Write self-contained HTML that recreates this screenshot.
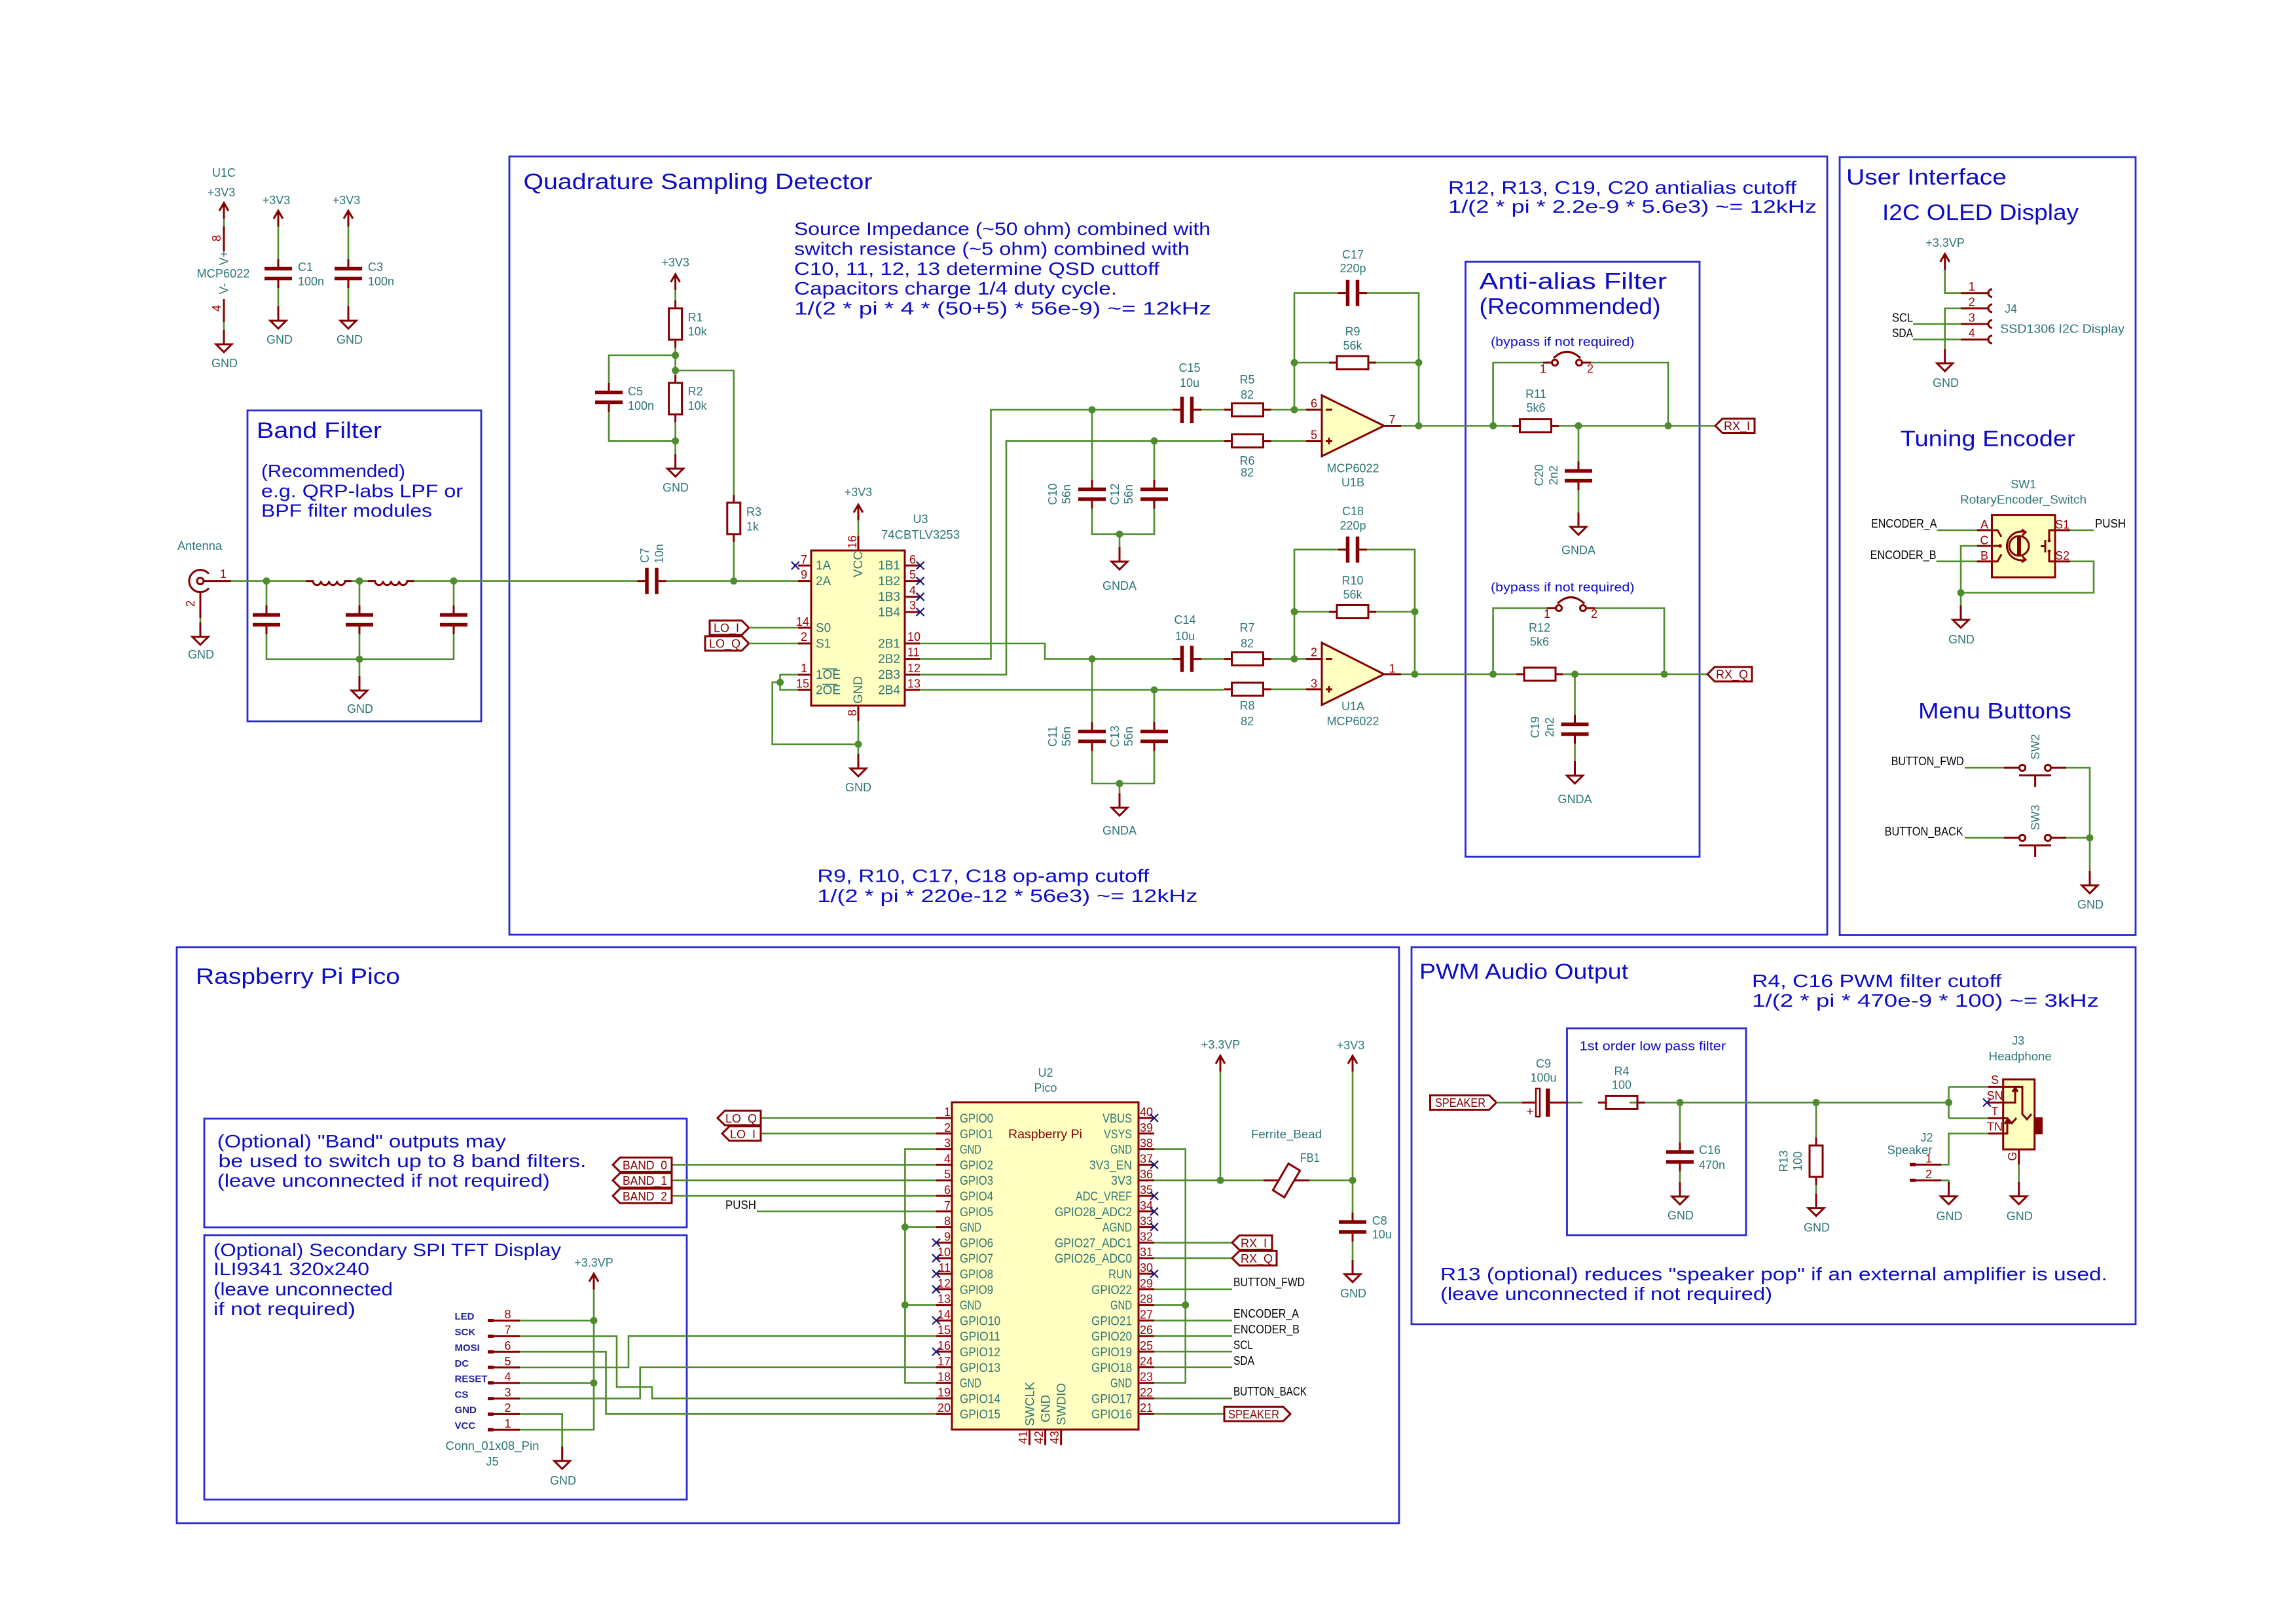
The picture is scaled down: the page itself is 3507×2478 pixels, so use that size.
<!DOCTYPE html>
<html><head><meta charset="utf-8"><title>Schematic</title><style>
html,body{margin:0;padding:0;background:#fff;}
svg{display:block}
text{font-family:"Liberation Sans","DejaVu Sans",sans-serif}
.w{stroke:#4e8c2c;stroke-width:2.6;fill:none}
.c{stroke:#840000;stroke-width:3;fill:none}
.cf{stroke:#840000;stroke-width:3;fill:#ffffc2}
.pl{stroke:#840000;stroke-width:5.5;fill:none}
.b{stroke:#2a2ad2;stroke-width:2.8;fill:none}
.x{stroke:#141484;stroke-width:2.2;fill:none}
.j{fill:#4e8c2c}
.t{fill:#2e7676;font-size:18px}
.p{fill:#a00000;font-size:18px}
.n{fill:#0c0cc4}
.k{fill:#000;font-size:18px}
.lb{fill:#840000;font-size:18px}
.pn{fill:#2e7676;font-size:19px}
.jl{fill:#22229a;font-size:15px;font-weight:bold}
</style></head><body>
<svg width="3507" height="2478" viewBox="0 0 3507 2478" xmlns="http://www.w3.org/2000/svg">
<defs>
<g id="gnd"><path class="c" d="M0 -22 V0 M-12 0 H12 L0 12 Z"/></g>
<g id="pwr"><path class="c" d="M0 0 V24 M-7 12 L0 0 L7 12"/></g>
<g id="nc"><path class="x" d="M-6 -6 L6 6 M-6 6 L6 -6"/></g>
<g id="cv"><path class="pl" d="M-21 -7.5 H21 M-21 7.5 H21"/><path class="c" d="M0 -22 V-10 M0 10 V22"/></g>
<g id="ch"><path class="pl" d="M-7.5 -20 V20 M7.5 -20 V20"/><path class="c" d="M-22 0 H-10 M10 0 H22"/></g>
<g id="rv"><rect class="c" x="-10" y="-24" width="20" height="48"/><path class="c" d="M0 -36 V-24 M0 24 V36"/></g>
<g id="rh"><rect class="c" x="-24" y="-10" width="48" height="20"/><path class="c" d="M-36 0 H-24 M24 0 H36"/></g>
</defs>
<rect x="0" y="0" width="3507" height="2478" fill="#fff"/>

<!-- ===== Section boxes ===== -->
<rect class="b" x="378" y="627" width="357" height="475"/>
<rect class="b" x="778" y="239" width="2013" height="1189"/>
<rect class="b" x="2238.5" y="400" width="357.5" height="909"/>
<rect class="b" x="2810" y="240" width="452" height="1188.5"/>
<rect class="b" x="270" y="1447" width="1867" height="880"/>
<rect class="b" x="312" y="1709" width="737" height="166"/>
<rect class="b" x="312" y="1887" width="737" height="404"/>
<rect class="b" x="2156" y="1447" width="1106" height="576"/>
<rect class="b" x="2393.5" y="1571" width="273.5" height="316"/>

<!-- ===== U1C power unit & decoupling ===== -->
<use href="#pwr" x="342" y="310"/>
<path class="w" d="M342 334 V346"/>
<path class="c" d="M342 346 V384 M342 457 V492"/>
<path class="w" d="M342 492 V504"/>
<use href="#gnd" x="342" y="526"/>
<text class="t" x="342" y="270" text-anchor="middle">U1C</text>
<text class="t" x="338" y="300" text-anchor="middle">+3V3</text>
<text class="p" transform="rotate(-90 331 364)" x="331" y="370" text-anchor="middle">8</text>
<text class="t" transform="rotate(-90 342 394)" x="342" y="400" text-anchor="middle">V+</text>
<text class="t" x="341" y="424" text-anchor="middle" textLength="81" lengthAdjust="spacingAndGlyphs">MCP6022</text>
<text class="t" transform="rotate(-90 342 441)" x="342" y="447" text-anchor="middle">V-</text>
<text class="p" transform="rotate(-90 331 471)" x="331" y="477" text-anchor="middle">4</text>
<text class="t" x="343" y="561" text-anchor="middle">GND</text>

<use href="#pwr" x="425" y="322"/>
<path class="w" d="M425 346 V396 M425 440 V468"/>
<use href="#cv" x="425" y="418"/>
<use href="#gnd" x="425" y="490"/>
<text class="t" x="422" y="312" text-anchor="middle">+3V3</text>
<text class="t" x="455" y="414">C1</text>
<text class="t" x="455" y="436">100n</text>
<text class="t" x="427" y="525" text-anchor="middle">GND</text>

<use href="#pwr" x="532" y="322"/>
<path class="w" d="M532 346 V396 M532 440 V468"/>
<use href="#cv" x="532" y="418"/>
<use href="#gnd" x="532" y="490"/>
<text class="t" x="529" y="312" text-anchor="middle">+3V3</text>
<text class="t" x="562" y="414">C3</text>
<text class="t" x="562" y="436">100n</text>
<text class="t" x="534" y="525" text-anchor="middle">GND</text>

<!-- ===== Band filter ===== -->
<circle class="c" cx="306" cy="887.6" r="5"/>
<path class="c" stroke-width="4" d="M319 876.7 A17 17 0 1 0 319 898.5"/>
<path class="c" d="M311 887.6 H353"/>
<text class="p" x="341" y="883" text-anchor="middle">1</text>
<path class="c" d="M306 905 V944"/>
<path class="w" d="M306 944 V951"/>
<use href="#gnd" x="306" y="973"/>
<text class="p" transform="rotate(-90 291 922)" x="291" y="928" text-anchor="middle">2</text>
<text class="t" x="307" y="1006" text-anchor="middle">GND</text>
<text class="t" x="305" y="840" text-anchor="middle" font-size="17" textLength="68" lengthAdjust="spacingAndGlyphs">Antenna</text>

<path class="w" d="M353 887.6 H467.5 M537 887.6 H562 M632.5 887.6 H973.5"/>
<path class="c" d="M467.5 887.6 H478 a6.1 6.1 0 0 0 12.25 0 a6.1 6.1 0 0 0 12.25 0 a6.1 6.1 0 0 0 12.25 0 a6.1 6.1 0 0 0 12.25 0 H537"/>
<path class="c" d="M562 887.6 H572.8 a6.1 6.1 0 0 0 12.3 0 a6.1 6.1 0 0 0 12.3 0 a6.1 6.1 0 0 0 12.3 0 a6.1 6.1 0 0 0 12.3 0 H632.5"/>
<path class="w" d="M407 887.6 V925 M549 887.6 V925 M693 887.6 V925 M407 969 V1007 H693 V969 M549 969 V1033"/>
<use href="#cv" x="407" y="947"/>
<use href="#cv" x="549" y="947"/>
<use href="#cv" x="693" y="947"/>
<use href="#gnd" x="549" y="1055"/>
<circle class="j" cx="407" cy="887.6" r="5.5"/>
<circle class="j" cx="549" cy="887.6" r="5.5"/>
<circle class="j" cx="693" cy="887.6" r="5.5"/>
<circle class="j" cx="549" cy="1007" r="5.5"/>
<text class="t" x="550" y="1089" text-anchor="middle">GND</text>
<text class="n" x="392" y="669" font-size="34" textLength="191" lengthAdjust="spacingAndGlyphs">Band Filter</text>
<text class="n" x="399" y="729" font-size="28" textLength="220" lengthAdjust="spacingAndGlyphs">(Recommended)</text>
<text class="n" x="399" y="759.5" font-size="28" textLength="308" lengthAdjust="spacingAndGlyphs">e.g. QRP-labs LPF or</text>
<text class="n" x="399" y="789.5" font-size="28" textLength="261" lengthAdjust="spacingAndGlyphs">BPF filter modules</text>

<!-- ===== QSD ===== -->
<text class="n" x="799.5" y="289" font-size="34" textLength="533" lengthAdjust="spacingAndGlyphs">Quadrature Sampling Detector</text>
<text class="n" x="1213" y="359" font-size="28" textLength="636" lengthAdjust="spacingAndGlyphs">Source Impedance (~50 ohm) combined with</text>
<text class="n" x="1213" y="389.5" font-size="28" textLength="604" lengthAdjust="spacingAndGlyphs">switch resistance (~5 ohm) combined with</text>
<text class="n" x="1213" y="420" font-size="28" textLength="558" lengthAdjust="spacingAndGlyphs">C10, 11, 12, 13 determine QSD cuttoff</text>
<text class="n" x="1213" y="450" font-size="28" textLength="493" lengthAdjust="spacingAndGlyphs">Capacitors charge 1/4 duty cycle.</text>
<text class="n" x="1213" y="480.5" font-size="28" textLength="637" lengthAdjust="spacingAndGlyphs">1/(2 * pi * 4 * (50+5) * 56e-9) ~= 12kHz</text>
<text class="n" x="1248.4" y="1347.5" font-size="28" textLength="507" lengthAdjust="spacingAndGlyphs">R9, R10, C17, C18  op-amp cutoff</text>
<text class="n" x="1248.4" y="1378" font-size="28" textLength="581" lengthAdjust="spacingAndGlyphs">1/(2 * pi * 220e-12 * 56e3) ~= 12kHz</text>
<text class="n" x="2212" y="296" font-size="28" textLength="532" lengthAdjust="spacingAndGlyphs">R12, R13, C19, C20  antialias cutoff</text>
<text class="n" x="2212" y="325" font-size="28" textLength="563" lengthAdjust="spacingAndGlyphs">1/(2 * pi * 2.2e-9 * 5.6e3) ~= 12kHz</text>

<!-- bias network -->
<use href="#pwr" x="1031.6" y="419"/>
<text class="t" x="1031.6" y="407" text-anchor="middle">+3V3</text>
<path class="w" d="M1031.6 443 V459 M1031.6 531 V573 M1031.6 645 V694"/>
<use href="#rv" x="1031.6" y="495"/>
<use href="#rv" x="1031.6" y="609"/>
<use href="#gnd" x="1031.6" y="716"/>
<text class="t" x="1032" y="751" text-anchor="middle">GND</text>
<path class="w" d="M1031.6 542.8 H930 V585 M930 629 V673.6 H1031.6"/>
<use href="#cv" x="930" y="607"/>
<path class="w" d="M1031.6 566 H1120.8 V756 M1120.8 828 V887.6"/>
<use href="#rv" x="1120.8" y="792"/>
<circle class="j" cx="1031.6" cy="542.8" r="5.5"/>
<circle class="j" cx="1031.6" cy="566" r="5.5"/>
<circle class="j" cx="1031.6" cy="673.6" r="5.5"/>
<circle class="j" cx="1120.8" cy="887.6" r="5.5"/>
<text class="t" x="1050.6" y="491">R1</text>
<text class="t" x="1050.6" y="512.5">10k</text>
<text class="t" x="1050.6" y="604">R2</text>
<text class="t" x="1050.6" y="626">10k</text>
<text class="t" x="959" y="604">C5</text>
<text class="t" x="959" y="626">100n</text>
<text class="t" x="1140" y="788">R3</text>
<text class="t" x="1140" y="810.5">1k</text>
<use href="#ch" x="995.5" y="887.6"/>
<path class="w" d="M1017.5 887.6 H1219"/>
<text class="t" transform="rotate(-90 984.7 848.6)" x="984.7" y="855" text-anchor="middle">C7</text>
<text class="t" transform="rotate(-90 1007 846)" x="1007" y="852" text-anchor="middle">10n</text>

<!-- U3 -->
<rect class="cf" x="1239" y="841" width="143" height="237"/>
<path class="c" d="M1219 864 H1239 M1219 887.6 H1239 M1219 959 H1239 M1219 983 H1239 M1219 1030.7 H1239 M1219 1054 H1239 M1382 864 H1405 M1382 887.6 H1405 M1382 911.7 H1405 M1382 935 H1405 M1382 983 H1405 M1382 1006.6 H1405 M1382 1030.7 H1405 M1382 1054 H1405 M1311 819 V841 M1311 1078 V1101.6"/>
<use href="#pwr" x="1311" y="771"/>
<text class="t" x="1311" y="758" text-anchor="middle">+3V3</text>
<path class="w" d="M1311 795 V819 M1311 1101.6 V1152"/>
<use href="#gnd" x="1311" y="1174"/>
<text class="t" x="1311" y="1209" text-anchor="middle">GND</text>
<path class="w" d="M1219 1030.7 H1191.6 V1054 H1219 M1191.6 1042.4 H1179.7 V1137 H1311"/>
<circle class="j" cx="1191.6" cy="1042.4" r="5.5"/>
<circle class="j" cx="1311" cy="1137" r="5.5"/>
<use href="#nc" x="1214.8" y="864"/>
<use href="#nc" x="1405.6" y="864"/>
<use href="#nc" x="1405.6" y="887.6"/>
<use href="#nc" x="1405.6" y="911.7"/>
<use href="#nc" x="1405.6" y="935"/>
<text class="t" x="1406" y="799" text-anchor="middle">U3</text>
<text class="t" x="1406" y="823" text-anchor="middle" textLength="120" lengthAdjust="spacingAndGlyphs">74CBTLV3253</text>
<g class="pn" font-size="17">
<text x="1246" y="870">1A</text><text x="1246" y="894">2A</text><text x="1246" y="965.5">S0</text><text x="1246" y="989.5">S1</text>
<text x="1246" y="1037">1OE</text><text x="1246" y="1060.5">2OE</text>
<text x="1375" y="870" text-anchor="end">1B1</text><text x="1375" y="894" text-anchor="end">1B2</text><text x="1375" y="918" text-anchor="end">1B3</text><text x="1375" y="941.5" text-anchor="end">1B4</text>
<text x="1375" y="989.5" text-anchor="end">2B1</text><text x="1375" y="1013" text-anchor="end">2B2</text><text x="1375" y="1037" text-anchor="end">2B3</text><text x="1375" y="1060.5" text-anchor="end">2B4</text>
<text transform="rotate(-90 1311 862)" x="1311" y="868" text-anchor="middle">VCC</text>
<text transform="rotate(-90 1311 1054)" x="1311" y="1060" text-anchor="middle">GND</text>
</g>
<path stroke="#2e7676" stroke-width="1.6" d="M1256 1022 H1279 M1256 1045.5 H1279"/>
<g class="p" font-size="17">
<text x="1233" y="861" text-anchor="end">7</text><text x="1233" y="884" text-anchor="end">9</text><text x="1236" y="956" text-anchor="end">14</text><text x="1233" y="979" text-anchor="end">2</text><text x="1233" y="1027" text-anchor="end">1</text><text x="1236" y="1050.5" text-anchor="end">15</text>
<text x="1389" y="861">6</text><text x="1389" y="884">5</text><text x="1389" y="908">4</text><text x="1389" y="931">3</text><text x="1386" y="979">10</text><text x="1386" y="1002.5">11</text><text x="1386" y="1027">12</text><text x="1386" y="1050.5">13</text>
<text transform="rotate(-90 1302 828)" x="1302" y="834" text-anchor="middle">16</text>
<text transform="rotate(-90 1302 1089)" x="1302" y="1095" text-anchor="middle">8</text>
</g>
<polygon class="c" points="1084,948 1133,948 1144,959 1133,970 1084,970"/>
<text class="lb" x="1090" y="965.5">LO_I</text>
<polygon class="c" points="1077,972 1133,972 1144,983 1133,994 1077,994"/>
<text class="lb" x="1083" y="989.5">LO_Q</text>
<path class="w" d="M1144 959 H1219 M1144 983 H1219"/>

<!-- QSD output routing -->
<path class="w" d="M1405 983 H1596 V1006.6 H1791 M1405 1006.6 H1513.5 V626 H1791 M1405 1030.7 H1537 V673.6 H1869 M1405 1054 H1869 M1835 626 H1869 M1835 1006.6 H1869"/>
<use href="#ch" x="1813" y="626"/>
<use href="#ch" x="1813" y="1006.6"/>
<text class="t" x="1817" y="568" text-anchor="middle">C15</text>
<text class="t" x="1817" y="591" text-anchor="middle">10u</text>
<text class="t" x="1810" y="953" text-anchor="middle">C14</text>
<text class="t" x="1810" y="978" text-anchor="middle">10u</text>
<path class="w" d="M1668 626 V733 M1763 673.6 V733 M1668 777 V816 H1763 V777 M1710 816 V836"/>
<use href="#cv" x="1668" y="755"/>
<use href="#cv" x="1763" y="755"/>
<use href="#gnd" x="1710" y="858"/>
<text class="t" x="1710" y="901" text-anchor="middle">GNDA</text>
<path class="w" d="M1668 1006.6 V1103 M1763 1054 V1103 M1668 1147 V1197 H1763 V1147 M1710 1197 V1212"/>
<use href="#cv" x="1668" y="1125"/>
<use href="#cv" x="1763" y="1125"/>
<use href="#gnd" x="1710" y="1234"/>
<text class="t" x="1710" y="1275" text-anchor="middle">GNDA</text>
<circle class="j" cx="1668" cy="626" r="5.5"/>
<circle class="j" cx="1763" cy="673.6" r="5.5"/>
<circle class="j" cx="1710" cy="816" r="5.5"/>
<circle class="j" cx="1668" cy="1006.6" r="5.5"/>
<circle class="j" cx="1763" cy="1054" r="5.5"/>
<circle class="j" cx="1710" cy="1197" r="5.5"/>
<g class="t">
<text transform="rotate(-90 1608 755)" x="1608" y="761" text-anchor="middle">C10</text>
<text transform="rotate(-90 1629 755)" x="1629" y="761" text-anchor="middle">56n</text>
<text transform="rotate(-90 1703 755)" x="1703" y="761" text-anchor="middle">C12</text>
<text transform="rotate(-90 1724 755)" x="1724" y="761" text-anchor="middle">56n</text>
<text transform="rotate(-90 1608 1125)" x="1608" y="1131" text-anchor="middle">C11</text>
<text transform="rotate(-90 1629 1125)" x="1629" y="1131" text-anchor="middle">56n</text>
<text transform="rotate(-90 1703 1125)" x="1703" y="1131" text-anchor="middle">C13</text>
<text transform="rotate(-90 1724 1125)" x="1724" y="1131" text-anchor="middle">56n</text>
</g>

<!-- Opamps -->
<use href="#rh" x="1905.5" y="626"/>
<use href="#rh" x="1905.5" y="673.6"/>
<use href="#rh" x="1905.5" y="1006.6"/>
<use href="#rh" x="1905.5" y="1053"/>
<g class="t" text-anchor="middle">
<text x="1905" y="586">R5</text><text x="1905" y="609">82</text>
<text x="1905" y="710">R6</text><text x="1905" y="728">82</text>
<text x="1905" y="965">R7</text><text x="1905" y="989">82</text>
<text x="1905" y="1084">R8</text><text x="1905" y="1108">82</text>
</g>
<path class="w" d="M1941.5 626 H1995 M1941.5 673.6 H1995 M1977 626 V447.6 H2044 M2088 447.6 H2167 V650.5 M1977 554 H2030 M2102 554 H2167"/>
<use href="#ch" x="2066" y="447.6"/>
<use href="#rh" x="2066" y="554"/>
<path class="c" d="M1995 626 H2019 M1995 673.6 H2019 M2114 650.5 H2140"/>
<polygon class="cf" points="2019,604 2114,650.5 2019,697"/>
<path class="c" stroke-width="2" d="M2025 626 H2035 M2025 673.6 H2035 M2030 668.6 V678.6"/>
<path class="w" d="M2140 650.5 H2309 M2382 650.5 H2620"/>
<circle class="j" cx="1977" cy="626" r="5.5"/>
<circle class="j" cx="1977" cy="554" r="5.5"/>
<circle class="j" cx="2167" cy="554" r="5.5"/>
<circle class="j" cx="2167" cy="650.5" r="5.5"/>
<g class="p" font-size="17"><text x="2007" y="622.5" text-anchor="middle">6</text><text x="2007" y="670.5" text-anchor="middle">5</text><text x="2126.5" y="647" text-anchor="middle">7</text></g>
<g class="t" text-anchor="middle">
<text x="2066.5" y="721.5">MCP6022</text><text x="2066.5" y="743">U1B</text>
<text x="2066.5" y="395">C17</text><text x="2066.5" y="416">220p</text>
<text x="2066" y="512.5">R9</text><text x="2066" y="534">56k</text>
</g>

<path class="w" d="M1941.5 1006.6 H1995 M1941.5 1053 H1995 M1977 1006.6 V839.6 H2044 M2088 839.6 H2161 V1030 M1977 934.5 H2030 M2102 934.5 H2161"/>
<use href="#ch" x="2066" y="839.6"/>
<use href="#rh" x="2066" y="934.5"/>
<path class="c" d="M1995 1006.6 H2019 M1995 1053 H2019 M2114 1030 H2140"/>
<polygon class="cf" points="2019,982 2114,1030 2019,1077"/>
<path class="c" stroke-width="2" d="M2025 1006.6 H2035 M2025 1053 H2035 M2030 1048 V1058"/>
<path class="w" d="M2140 1030 H2315.6 M2388.5 1030 H2608"/>
<circle class="j" cx="1977" cy="1006.6" r="5.5"/>
<circle class="j" cx="1977" cy="934.5" r="5.5"/>
<circle class="j" cx="2161" cy="934.5" r="5.5"/>
<circle class="j" cx="2161" cy="1030" r="5.5"/>
<g class="p" font-size="17"><text x="2007" y="1002.5" text-anchor="middle">2</text><text x="2007" y="1050.5" text-anchor="middle">3</text><text x="2126.5" y="1027.5" text-anchor="middle">1</text></g>
<g class="t" text-anchor="middle">
<text x="2066.5" y="1085">U1A</text><text x="2066.5" y="1108">MCP6022</text>
<text x="2066.5" y="787">C18</text><text x="2066.5" y="808.8">220p</text>
<text x="2066" y="893">R10</text><text x="2066" y="914.5">56k</text>
</g>

<!-- Anti-alias -->
<text class="n" x="2259.5" y="441.5" font-size="35" textLength="286.5" lengthAdjust="spacingAndGlyphs">Anti-alias Filter</text>
<text class="n" x="2259.5" y="480" font-size="35" textLength="277" lengthAdjust="spacingAndGlyphs">(Recommended)</text>
<text class="n" x="2277" y="528.5" font-size="19" textLength="219.5" lengthAdjust="spacingAndGlyphs">(bypass if not required)</text>
<text class="n" x="2277" y="903.5" font-size="19" textLength="219.5" lengthAdjust="spacingAndGlyphs">(bypass if not required)</text>
<use href="#rh" x="2345.5" y="650.5"/>
<path class="w" d="M2280.6 650.5 V554 H2357 M2430 554 H2548 V650.5"/>
<path class="c" d="M2357 554 H2371 M2416 554 H2430 M2373 547 Q2393.5 528 2414 547"/>
<circle class="c" cx="2375" cy="554" r="4.5"/>
<circle class="c" cx="2412" cy="554" r="4.5"/>
<path class="w" d="M2411 650.5 V705 M2411 749 V783"/>
<use href="#cv" x="2411" y="727"/>
<use href="#gnd" x="2411" y="805"/>
<text class="t" x="2411" y="846.6" text-anchor="middle">GNDA</text>
<circle class="j" cx="2280.6" cy="650.5" r="5.5"/>
<circle class="j" cx="2411" cy="650.5" r="5.5"/>
<circle class="j" cx="2548" cy="650.5" r="5.5"/>
<text class="p" x="2357" y="569.5" text-anchor="middle">1</text>
<text class="p" x="2429" y="569.5" text-anchor="middle">2</text>
<text class="t" x="2346" y="608" text-anchor="middle">R11</text>
<text class="t" x="2346" y="629" text-anchor="middle">5k6</text>
<text class="t" transform="rotate(-90 2351 726)" x="2351" y="732" text-anchor="middle">C20</text>
<text class="t" transform="rotate(-90 2373 726)" x="2373" y="732" text-anchor="middle">2n2</text>
<polygon class="c" points="2620,650.5 2631,639.5 2680,639.5 2680,661.5 2631,661.5"/>
<text class="lb" x="2633" y="657">RX_I</text>

<use href="#rh" x="2352" y="1030"/>
<path class="w" d="M2280.6 1030 V929 H2363 M2436 929 H2542 V1030"/>
<path class="c" d="M2363 929 H2377 M2422 929 H2436 M2379 922 Q2399.5 903 2420 922"/>
<circle class="c" cx="2381" cy="929" r="4.5"/>
<circle class="c" cx="2418" cy="929" r="4.5"/>
<path class="w" d="M2405.5 1030 V1092 M2405.5 1136 V1163"/>
<use href="#cv" x="2405.5" y="1114"/>
<use href="#gnd" x="2405.5" y="1185"/>
<text class="t" x="2405.5" y="1227" text-anchor="middle">GNDA</text>
<circle class="j" cx="2280.6" cy="1030" r="5.5"/>
<circle class="j" cx="2405.5" cy="1030" r="5.5"/>
<circle class="j" cx="2542" cy="1030" r="5.5"/>
<text class="p" x="2363" y="944" text-anchor="middle">1</text>
<text class="p" x="2435" y="944" text-anchor="middle">2</text>
<text class="t" x="2351.5" y="965" text-anchor="middle">R12</text>
<text class="t" x="2351.5" y="986.5" text-anchor="middle">5k6</text>
<text class="t" transform="rotate(-90 2345 1111)" x="2345" y="1117" text-anchor="middle">C19</text>
<text class="t" transform="rotate(-90 2367 1111)" x="2367" y="1117" text-anchor="middle">2n2</text>
<polygon class="c" points="2608,1030 2619,1019 2676,1019 2676,1041 2619,1041"/>
<text class="lb" x="2621" y="1036.5">RX_Q</text>

<!-- ===== User Interface ===== -->
<text class="n" x="2820" y="282" font-size="34" textLength="245" lengthAdjust="spacingAndGlyphs">User Interface</text>
<text class="n" x="2875" y="336" font-size="34" textLength="300" lengthAdjust="spacingAndGlyphs">I2C OLED Display</text>
<use href="#pwr" x="2970.7" y="388"/>
<text class="t" x="2971" y="377" text-anchor="middle">+3.3VP</text>
<path class="w" d="M2970.7 412 V447.7 H2995 M2995 471 H2970.7 V533 M2922 495 H2995 M2922 518.7 H2995"/>
<path class="c" d="M2995 447.7 H3037 M2995 471 H3037 M2995 495 H3037 M2995 518.7 H3037"/>
<path class="c" d="M3043 441.7 A6 6 0 0 0 3043 453.7 M3043 465 A6 6 0 0 0 3043 477 M3043 489 A6 6 0 0 0 3043 501 M3043 512.7 A6 6 0 0 0 3043 524.7"/>
<use href="#gnd" x="2970.7" y="555"/>
<text class="t" x="2972" y="591" text-anchor="middle">GND</text>
<g class="p" text-anchor="middle"><text x="3011.7" y="444">1</text><text x="3011.7" y="467.5">2</text><text x="3011.7" y="491.5">3</text><text x="3011.7" y="515">4</text></g>
<text class="k" x="2890" y="491.5" textLength="32" lengthAdjust="spacingAndGlyphs">SCL</text>
<text class="k" x="2890" y="515" textLength="32" lengthAdjust="spacingAndGlyphs">SDA</text>
<text class="t" x="3062" y="478">J4</text>
<text class="t" x="3055" y="508.5" textLength="190" lengthAdjust="spacingAndGlyphs">SSD1306 I2C Display</text>

<text class="n" x="2902.7" y="681.7" font-size="34" textLength="267" lengthAdjust="spacingAndGlyphs">Tuning Encoder</text>
<text class="t" x="3090.7" y="746" text-anchor="middle">SW1</text>
<text class="t" x="3090.5" y="769.5" text-anchor="middle" textLength="193" lengthAdjust="spacingAndGlyphs">RotaryEncoder_Switch</text>
<rect class="cf" x="3042.5" y="786.6" width="96.5" height="95.4"/>
<path class="c" d="M3019.6 810 H3042.5 M3019.6 834 H3042.5 M3019.6 857.7 H3042.5 M3139 810 H3162 M3139 857.7 H3162"/>
<path class="c" stroke-width="2" d="M3042.5 810 H3051 L3057 820 M3042.5 834 H3055 M3042.5 857.7 H3051 L3057 847"/>
<circle fill="#840000" cx="3055" cy="834" r="2.8"/>
<circle class="c" cx="3084" cy="834" r="15"/>
<rect fill="#840000" x="3081" y="820" width="6" height="28"/>
<path class="c" stroke-width="2.4" d="M3094 813 A22 22 0 1 0 3094 855 M3088 809 L3094 813 L3089 818 M3088 859 L3094 855 L3089 850"/>
<path class="c" stroke-width="2.4" d="M3139 810 H3130 V826 M3139 857.7 H3130 V842 M3124 825 V844 M3117 834.5 H3124"/>
<circle fill="#840000" cx="3130" cy="826" r="2.4"/>
<circle fill="#840000" cx="3130" cy="842" r="2.4"/>
<g class="p" font-size="17"><text x="3031" y="807.5" text-anchor="middle">A</text><text x="3031" y="831.5" text-anchor="middle">C</text><text x="3031" y="855" text-anchor="middle">B</text><text x="3150" y="807.5" text-anchor="middle">S1</text><text x="3150" y="855" text-anchor="middle">S2</text></g>
<path class="w" d="M2958.5 810 H3019.6 M2957.6 857.7 H3019.6 M3019.6 834 H2995 V925 M3162 857.7 H3198 V905.5 H2995 M3162 810 H3198"/>
<circle class="j" cx="2995" cy="905.5" r="5.5"/>
<use href="#gnd" x="2995" y="947"/>
<text class="t" x="2996" y="983" text-anchor="middle">GND</text>
<text class="k" x="2858" y="806" textLength="100.5" lengthAdjust="spacingAndGlyphs">ENCODER_A</text>
<text class="k" x="2856.6" y="854" textLength="101" lengthAdjust="spacingAndGlyphs">ENCODER_B</text>
<text class="k" x="3200" y="806" textLength="47" lengthAdjust="spacingAndGlyphs">PUSH</text>

<text class="n" x="2930" y="1097.4" font-size="34" textLength="234" lengthAdjust="spacingAndGlyphs">Menu Buttons</text>
<path class="w" d="M3001 1173 H3061 M3156 1173 H3192 V1330.7 M3001 1280 H3061 M3156 1280 H3192"/>
<path class="c" d="M3061 1173 H3084.4 M3132.6 1173 H3156 M3084 1184.6 H3133 M3108.6 1184.6 V1202 M3061 1280 H3084.4 M3132.6 1280 H3156 M3084 1291.6 H3133 M3108.6 1291.6 V1309"/>
<circle class="c" cx="3089" cy="1173" r="4.6" stroke-width="2.4"/>
<circle class="c" cx="3128" cy="1173" r="4.6" stroke-width="2.4"/>
<circle class="c" cx="3089" cy="1280" r="4.6" stroke-width="2.4"/>
<circle class="c" cx="3128" cy="1280" r="4.6" stroke-width="2.4"/>
<circle class="j" cx="3192" cy="1280" r="5.5"/>
<use href="#gnd" x="3192" y="1352.7"/>
<text class="t" x="3193" y="1388" text-anchor="middle">GND</text>
<text class="t" transform="rotate(-90 3109 1141)" x="3109" y="1147" text-anchor="middle">SW2</text>
<text class="t" transform="rotate(-90 3109 1249)" x="3109" y="1255" text-anchor="middle">SW3</text>
<text class="k" x="2888.7" y="1169" textLength="111" lengthAdjust="spacingAndGlyphs">BUTTON_FWD</text>
<text class="k" x="2878.6" y="1276.5" textLength="120" lengthAdjust="spacingAndGlyphs">BUTTON_BACK</text>

<!-- ===== Raspberry Pi Pico ===== -->
<text class="n" x="299" y="1503" font-size="34" textLength="312" lengthAdjust="spacingAndGlyphs">Raspberry Pi Pico</text>
<text class="n" x="331.8" y="1753" font-size="28" textLength="441" lengthAdjust="spacingAndGlyphs">(Optional) "Band" outputs may</text>
<text class="n" x="333.5" y="1783" font-size="28" textLength="562" lengthAdjust="spacingAndGlyphs">be used to switch up to 8 band filters.</text>
<text class="n" x="331.8" y="1813" font-size="28" textLength="508" lengthAdjust="spacingAndGlyphs">(leave unconnected if not required)</text>
<text class="n" x="326" y="1919" font-size="28" textLength="531" lengthAdjust="spacingAndGlyphs">(Optional) Secondary SPI TFT Display</text>
<text class="n" x="326" y="1948" font-size="28" textLength="238" lengthAdjust="spacingAndGlyphs">ILI9341 320x240</text>
<text class="n" x="326" y="1979" font-size="28" textLength="274" lengthAdjust="spacingAndGlyphs">(leave unconnected</text>
<text class="n" x="326" y="2009" font-size="28" textLength="217" lengthAdjust="spacingAndGlyphs">if not required)</text>

<!-- J5 -->
<path class="c" d="M745.6 2017.5 H794 M745.6 2041.4 H794 M745.6 2065.2 H794 M745.6 2089 H794 M745.6 2112.8 H794 M745.6 2136.6 H794 M745.6 2160.4 H794 M745.6 2184.2 H794"/>
<path stroke="#840000" stroke-width="5" d="M745 2017.5 H754 M745 2041.4 H754 M745 2065.2 H754 M745 2089 H754 M745 2112.8 H754 M745 2136.6 H754 M745 2160.4 H754 M745 2184.2 H754"/>
<g class="p" text-anchor="middle"><text x="775.5" y="2014">8</text><text x="775.5" y="2038">7</text><text x="775.5" y="2062">6</text><text x="775.5" y="2086">5</text><text x="775.5" y="2109.5">4</text><text x="775.5" y="2133.5">3</text><text x="775.5" y="2157">2</text><text x="775.5" y="2181">1</text></g>
<g class="jl"><text x="694.5" y="2016">LED</text><text x="694.5" y="2040">SCK</text><text x="694.5" y="2064">MOSI</text><text x="694.5" y="2088">DC</text><text x="694.5" y="2111.5">RESET</text><text x="694.5" y="2135.5">CS</text><text x="694.5" y="2159">GND</text><text x="694.5" y="2183">VCC</text></g>
<use href="#pwr" x="907" y="1946"/>
<text class="t" x="907" y="1935" text-anchor="middle">+3.3VP</text>
<path class="w" d="M907 1970 V2184.2 H794 M794 2017.5 H907 M794 2112.8 H907 M794 2160.4 H858.7 V2210"/>
<circle class="j" cx="907" cy="2017.5" r="5.5"/>
<circle class="j" cx="907" cy="2112.8" r="5.5"/>
<use href="#gnd" x="858.7" y="2232"/>
<text class="t" x="860" y="2268" text-anchor="middle">GND</text>
<text class="t" x="752" y="2215" text-anchor="middle" textLength="143" lengthAdjust="spacingAndGlyphs">Conn_01x08_Pin</text>
<text class="t" x="752" y="2239" text-anchor="middle">J5</text>
<path class="w" d="M794 2089 H960 V2041.2 H1430 M794 2136.6 H977.7 V2088.8 H1430 M794 2041.4 H942 V2119 H996 V2136.4 H1430 M794 2065.2 H925.5 V2160.2 H1430"/>

<!-- U2 -->
<rect class="cf" x="1454" y="1684" width="285" height="500"/>
<path class="c" d="M1430 1708 H1454 M1430 1731.8 H1454 M1430 1755.6 H1454 M1430 1779.4 H1454 M1430 1803.2 H1454 M1430 1827 H1454 M1430 1850.8 H1454 M1430 1874.6 H1454 M1430 1898.4 H1454 M1430 1922.2 H1454 M1430 1946 H1454 M1430 1969.8 H1454 M1430 1993.6 H1454 M1430 2017.4 H1454 M1430 2041.2 H1454 M1430 2065 H1454 M1430 2088.8 H1454 M1430 2112.6 H1454 M1430 2136.4 H1454 M1430 2160.2 H1454"/>
<path class="c" d="M1739 1708 H1763 M1739 1731.8 H1763 M1739 1755.6 H1763 M1739 1779.4 H1763 M1739 1803.2 H1763 M1739 1827 H1763 M1739 1850.8 H1763 M1739 1874.6 H1763 M1739 1898.4 H1763 M1739 1922.2 H1763 M1739 1946 H1763 M1739 1969.8 H1763 M1739 1993.6 H1763 M1739 2017.4 H1763 M1739 2041.2 H1763 M1739 2065 H1763 M1739 2088.8 H1763 M1739 2112.6 H1763 M1739 2136.4 H1763 M1739 2160.2 H1763"/>
<path class="c" d="M1572.5 2184 V2208 M1596.6 2184 V2208 M1620.7 2184 V2208"/>
<g class="pn">
<text x="1466" y="1715" textLength="51" lengthAdjust="spacingAndGlyphs">GPIO0</text>
<text x="1466" y="1738.8" textLength="51" lengthAdjust="spacingAndGlyphs">GPIO1</text>
<text x="1466" y="1762.6" textLength="33" lengthAdjust="spacingAndGlyphs">GND</text>
<text x="1466" y="1786.4" textLength="51" lengthAdjust="spacingAndGlyphs">GPIO2</text>
<text x="1466" y="1810.2" textLength="51" lengthAdjust="spacingAndGlyphs">GPIO3</text>
<text x="1466" y="1834" textLength="51" lengthAdjust="spacingAndGlyphs">GPIO4</text>
<text x="1466" y="1857.8" textLength="51" lengthAdjust="spacingAndGlyphs">GPIO5</text>
<text x="1466" y="1881.6" textLength="33" lengthAdjust="spacingAndGlyphs">GND</text>
<text x="1466" y="1905.4" textLength="51" lengthAdjust="spacingAndGlyphs">GPIO6</text>
<text x="1466" y="1929.2" textLength="51" lengthAdjust="spacingAndGlyphs">GPIO7</text>
<text x="1466" y="1953" textLength="51" lengthAdjust="spacingAndGlyphs">GPIO8</text>
<text x="1466" y="1976.8" textLength="51" lengthAdjust="spacingAndGlyphs">GPIO9</text>
<text x="1466" y="2000.6" textLength="33" lengthAdjust="spacingAndGlyphs">GND</text>
<text x="1466" y="2024.4" textLength="62" lengthAdjust="spacingAndGlyphs">GPIO10</text>
<text x="1466" y="2048.2" textLength="62" lengthAdjust="spacingAndGlyphs">GPIO11</text>
<text x="1466" y="2072" textLength="62" lengthAdjust="spacingAndGlyphs">GPIO12</text>
<text x="1466" y="2095.8" textLength="62" lengthAdjust="spacingAndGlyphs">GPIO13</text>
<text x="1466" y="2119.6" textLength="33" lengthAdjust="spacingAndGlyphs">GND</text>
<text x="1466" y="2143.4" textLength="62" lengthAdjust="spacingAndGlyphs">GPIO14</text>
<text x="1466" y="2167.2" textLength="62" lengthAdjust="spacingAndGlyphs">GPIO15</text>
</g>
<g class="pn" text-anchor="end">
<text x="1729" y="1715" textLength="45" lengthAdjust="spacingAndGlyphs">VBUS</text>
<text x="1729" y="1738.8" textLength="43" lengthAdjust="spacingAndGlyphs">VSYS</text>
<text x="1729" y="1762.6" textLength="33" lengthAdjust="spacingAndGlyphs">GND</text>
<text x="1729" y="1786.4" textLength="65" lengthAdjust="spacingAndGlyphs">3V3_EN</text>
<text x="1729" y="1810.2" textLength="32" lengthAdjust="spacingAndGlyphs">3V3</text>
<text x="1729" y="1834" textLength="86" lengthAdjust="spacingAndGlyphs">ADC_VREF</text>
<text x="1729" y="1857.8" textLength="118" lengthAdjust="spacingAndGlyphs">GPIO28_ADC2</text>
<text x="1729" y="1881.6" textLength="45" lengthAdjust="spacingAndGlyphs">AGND</text>
<text x="1729" y="1905.4" textLength="118" lengthAdjust="spacingAndGlyphs">GPIO27_ADC1</text>
<text x="1729" y="1929.2" textLength="118" lengthAdjust="spacingAndGlyphs">GPIO26_ADC0</text>
<text x="1729" y="1953" textLength="36" lengthAdjust="spacingAndGlyphs">RUN</text>
<text x="1729" y="1976.8" textLength="62" lengthAdjust="spacingAndGlyphs">GPIO22</text>
<text x="1729" y="2000.6" textLength="33" lengthAdjust="spacingAndGlyphs">GND</text>
<text x="1729" y="2024.4" textLength="62" lengthAdjust="spacingAndGlyphs">GPIO21</text>
<text x="1729" y="2048.2" textLength="62" lengthAdjust="spacingAndGlyphs">GPIO20</text>
<text x="1729" y="2072" textLength="62" lengthAdjust="spacingAndGlyphs">GPIO19</text>
<text x="1729" y="2095.8" textLength="62" lengthAdjust="spacingAndGlyphs">GPIO18</text>
<text x="1729" y="2119.6" textLength="33" lengthAdjust="spacingAndGlyphs">GND</text>
<text x="1729" y="2143.4" textLength="62" lengthAdjust="spacingAndGlyphs">GPIO17</text>
<text x="1729" y="2167.2" textLength="62" lengthAdjust="spacingAndGlyphs">GPIO16</text>
</g>
<g class="pn">
<text transform="rotate(-90 1572.5 2145)" x="1572.5" y="2152" text-anchor="middle">SWCLK</text>
<text transform="rotate(-90 1596.6 2152)" x="1596.6" y="2159" text-anchor="middle">GND</text>
<text transform="rotate(-90 1620.7 2145)" x="1620.7" y="2152" text-anchor="middle">SWDIO</text>
</g>
<g class="p">
<text x="1452" y="1705" text-anchor="end">1</text><text x="1452" y="1728.8" text-anchor="end">2</text><text x="1452" y="1752.6" text-anchor="end">3</text><text x="1452" y="1776.4" text-anchor="end">4</text><text x="1452" y="1800.2" text-anchor="end">5</text><text x="1452" y="1824" text-anchor="end">6</text><text x="1452" y="1847.8" text-anchor="end">7</text><text x="1452" y="1871.6" text-anchor="end">8</text><text x="1452" y="1895.4" text-anchor="end">9</text><text x="1452" y="1919.2" text-anchor="end">10</text><text x="1452" y="1943" text-anchor="end">11</text><text x="1452" y="1966.8" text-anchor="end">12</text><text x="1452" y="1990.6" text-anchor="end">13</text><text x="1452" y="2014.4" text-anchor="end">14</text><text x="1452" y="2038.2" text-anchor="end">15</text><text x="1452" y="2062" text-anchor="end">16</text><text x="1452" y="2085.8" text-anchor="end">17</text><text x="1452" y="2109.6" text-anchor="end">18</text><text x="1452" y="2133.4" text-anchor="end">19</text><text x="1452" y="2157.2" text-anchor="end">20</text>
<text x="1741" y="1705">40</text><text x="1741" y="1728.8">39</text><text x="1741" y="1752.6">38</text><text x="1741" y="1776.4">37</text><text x="1741" y="1800.2">36</text><text x="1741" y="1824">35</text><text x="1741" y="1847.8">34</text><text x="1741" y="1871.6">33</text><text x="1741" y="1895.4">32</text><text x="1741" y="1919.2">31</text><text x="1741" y="1943">30</text><text x="1741" y="1966.8">29</text><text x="1741" y="1990.6">28</text><text x="1741" y="2014.4">27</text><text x="1741" y="2038.2">26</text><text x="1741" y="2062">25</text><text x="1741" y="2085.8">24</text><text x="1741" y="2109.6">23</text><text x="1741" y="2133.4">22</text><text x="1741" y="2157.2">21</text>
<text transform="rotate(-90 1563 2196)" x="1563" y="2202" text-anchor="middle">41</text>
<text transform="rotate(-90 1587 2196)" x="1587" y="2202" text-anchor="middle">42</text>
<text transform="rotate(-90 1611 2196)" x="1611" y="2202" text-anchor="middle">43</text>
</g>
<text x="1540" y="1739" fill="#840000" font-size="19" textLength="113" lengthAdjust="spacingAndGlyphs">Raspberry Pi</text>
<text class="t" x="1597" y="1645" text-anchor="middle" font-size="20">U2</text>
<text class="t" x="1597" y="1668" text-anchor="middle" font-size="20">Pico</text>
<use href="#nc" x="1430" y="1898.4"/><use href="#nc" x="1430" y="1922.2"/><use href="#nc" x="1430" y="1946"/><use href="#nc" x="1430" y="1969.8"/><use href="#nc" x="1430" y="2017.4"/><use href="#nc" x="1430" y="2065"/>
<use href="#nc" x="1763" y="1708"/><use href="#nc" x="1763" y="1779.4"/><use href="#nc" x="1763" y="1827"/><use href="#nc" x="1763" y="1850.8"/><use href="#nc" x="1763" y="1874.6"/><use href="#nc" x="1763" y="1946"/>
<path class="w" d="M1430 1755.6 H1382.4 V2112.6 H1430 M1382.4 1874.6 H1430 M1382.4 1993.6 H1430 M1763 1755.6 H1810.7 V2112.6 H1763 M1763 1993.6 H1810.7"/>
<circle class="j" cx="1382.4" cy="1874.6" r="5.5"/>
<circle class="j" cx="1382.4" cy="1993.6" r="5.5"/>
<circle class="j" cx="1810.7" cy="1993.6" r="5.5"/>

<!-- Pico left labels -->
<path class="w" d="M1162 1708 H1430 M1162 1731.8 H1430 M1026 1779.4 H1430 M1026 1803.2 H1430 M1026 1827 H1430 M1156 1850.8 H1430"/>
<polygon class="c" points="1096,1708 1107,1697 1162,1697 1162,1719 1107,1719"/>
<text class="lb" x="1108" y="1715">LO_Q</text>
<polygon class="c" points="1103,1731.8 1114,1720.8 1162,1720.8 1162,1742.8 1114,1742.8"/>
<text class="lb" x="1115" y="1738.8">LO_I</text>
<polygon class="c" points="936,1779.4 947,1768.4 1026,1768.4 1026,1790.4 947,1790.4"/>
<text class="lb" x="951" y="1786.4" textLength="68" lengthAdjust="spacingAndGlyphs">BAND_0</text>
<polygon class="c" points="936,1803.2 947,1792.2 1026,1792.2 1026,1814.2 947,1814.2"/>
<text class="lb" x="951" y="1810.2" textLength="68" lengthAdjust="spacingAndGlyphs">BAND_1</text>
<polygon class="c" points="936,1827 947,1816 1026,1816 1026,1838 947,1838"/>
<text class="lb" x="951" y="1834" textLength="68" lengthAdjust="spacingAndGlyphs">BAND_2</text>
<text class="k" x="1108" y="1847" textLength="47" lengthAdjust="spacingAndGlyphs">PUSH</text>

<!-- Pico right side -->
<path class="w" d="M1763 1803.2 H1930 M2000 1803.2 H2066 V1860 M2066 1889 V1924.7 M1864 1803.2 V1637 M2066 1803.2 V1637"/>
<path class="c" d="M1930 1803.2 H1952 M1977 1803.2 H2000"/>
<polygon points="1968,1777.7 1985.7,1788.3 1961.7,1829.3 1944.3,1818.3" fill="#fff" stroke="#840000" stroke-width="3"/>
<use href="#pwr" x="1864" y="1613"/>
<use href="#pwr" x="2066" y="1613"/>
<text class="t" x="1864.5" y="1602" text-anchor="middle">+3.3VP</text>
<text class="t" x="2063" y="1603" text-anchor="middle">+3V3</text>
<text class="t" x="1911" y="1739" textLength="108" lengthAdjust="spacingAndGlyphs">Ferrite_Bead</text>
<text class="t" x="1985.7" y="1775" textLength="30" lengthAdjust="spacingAndGlyphs">FB1</text>
<use href="#cv" x="2066" y="1874.5"/>
<use href="#gnd" x="2066" y="1946.7"/>
<text class="t" x="2067" y="1982" text-anchor="middle">GND</text>
<text class="t" x="2095.7" y="1871">C8</text>
<text class="t" x="2095.7" y="1892">10u</text>
<circle class="j" cx="1864" cy="1803.2" r="5.5"/>
<circle class="j" cx="2066" cy="1803.2" r="5.5"/>

<path class="w" d="M1763 1898.4 H1882 M1763 1922.2 H1882 M1763 1969.8 H1882 M1763 2017.4 H1882 M1763 2041.2 H1882 M1763 2065 H1882 M1763 2088.8 H1882 M1763 2136.4 H1882 M1763 2160.2 H1870"/>
<polygon class="c" points="1882,1898.4 1893,1887.4 1943,1887.4 1943,1909.4 1893,1909.4"/>
<text class="lb" x="1895" y="1905.4">RX_I</text>
<polygon class="c" points="1882,1922.2 1893,1911.2 1950,1911.2 1950,1933.2 1893,1933.2"/>
<text class="lb" x="1895" y="1929.2">RX_Q</text>
<text class="k" x="1884" y="1965" textLength="109" lengthAdjust="spacingAndGlyphs">BUTTON_FWD</text>
<text class="k" x="1884" y="2013" textLength="100" lengthAdjust="spacingAndGlyphs">ENCODER_A</text>
<text class="k" x="1884" y="2037" textLength="101" lengthAdjust="spacingAndGlyphs">ENCODER_B</text>
<text class="k" x="1884" y="2061" textLength="30" lengthAdjust="spacingAndGlyphs">SCL</text>
<text class="k" x="1884" y="2085" textLength="32" lengthAdjust="spacingAndGlyphs">SDA</text>
<text class="k" x="1884" y="2132" textLength="112" lengthAdjust="spacingAndGlyphs">BUTTON_BACK</text>
<polygon class="c" points="1870,2149.2 1960,2149.2 1971,2160.2 1960,2171.2 1870,2171.2"/>
<text class="lb" x="1876" y="2167" textLength="78" lengthAdjust="spacingAndGlyphs">SPEAKER</text>

<!-- ===== PWM Audio Output ===== -->
<text class="n" x="2168" y="1495.5" font-size="33" textLength="319" lengthAdjust="spacingAndGlyphs">PWM Audio Output</text>
<text class="n" x="2676" y="1508" font-size="28" textLength="381" lengthAdjust="spacingAndGlyphs">R4, C16  PWM filter cutoff</text>
<text class="n" x="2676" y="1538" font-size="28" textLength="530" lengthAdjust="spacingAndGlyphs">1/(2 * pi * 470e-9 * 100) ~= 3kHz</text>
<text class="n" x="2200" y="1956" font-size="28" textLength="1019" lengthAdjust="spacingAndGlyphs">R13 (optional) reduces "speaker pop" if an external amplifier is used.</text>
<text class="n" x="2200" y="1986" font-size="28" textLength="507" lengthAdjust="spacingAndGlyphs">(leave unconnected if not required)</text>
<text class="n" x="2412.6" y="1604.5" font-size="19" textLength="223.5" lengthAdjust="spacingAndGlyphs">1st order low pass filter</text>

<polygon class="c" points="2184.5,1673.4 2274.7,1673.4 2285.7,1684.4 2274.7,1695.4 2184.5,1695.4"/>
<text class="lb" x="2192" y="1691" textLength="77" lengthAdjust="spacingAndGlyphs">SPEAKER</text>
<path class="w" d="M2285.7 1684.4 H2325 M2395 1684.4 H2417 M2489 1684.4 H2976.5"/>
<path class="c" d="M2325 1684.4 H2346 M2367 1684.4 H2395"/>
<rect x="2346" y="1663" width="6" height="43" fill="#fff" stroke="#840000" stroke-width="2.5"/>
<rect x="2361" y="1663" width="6.5" height="43" fill="#840000"/>
<text class="p" x="2337" y="1704" text-anchor="middle">+</text>
<text class="t" x="2357.5" y="1631" text-anchor="middle">C9</text>
<text class="t" x="2357.5" y="1652.6" text-anchor="middle">100u</text>
<use href="#rh" x="2477" y="1684.4"/>
<text class="t" x="2477" y="1642.7" text-anchor="middle">R4</text>
<text class="t" x="2477" y="1663.7" text-anchor="middle">100</text>
<path class="w" d="M2566 1684.4 V1745.5 M2566 1789.5 V1806"/>
<use href="#cv" x="2566" y="1767.5"/>
<use href="#gnd" x="2566" y="1828"/>
<text class="t" x="2567" y="1863" text-anchor="middle">GND</text>
<text class="t" x="2595" y="1763">C16</text>
<text class="t" x="2595" y="1786">470n</text>
<path class="w" d="M2774 1684.4 V1738 M2774 1810 V1823.6"/>
<use href="#rv" x="2774" y="1774"/>
<use href="#gnd" x="2774" y="1845.6"/>
<text class="t" x="2775" y="1881.7" text-anchor="middle">GND</text>
<text class="t" transform="rotate(-90 2724.5 1774)" x="2724.5" y="1780" text-anchor="middle">R13</text>
<text class="t" transform="rotate(-90 2746 1774)" x="2746" y="1780" text-anchor="middle">100</text>
<circle class="j" cx="2566" cy="1684.4" r="5.5"/>
<circle class="j" cx="2774" cy="1684.4" r="5.5"/>
<circle class="j" cx="2976.5" cy="1684.4" r="5.5"/>

<!-- J3 / J2 -->
<path class="w" d="M2976.5 1660.4 V1708.4 M2976.5 1660.4 H3036.7 M2976.5 1708.4 H3036.7 M3036.7 1731.8 H2976.5 V1779.3 H2965.3 M2965.3 1803.3 H2976.5 V1805.8 M3083.7 1779 V1805.8"/>
<path class="c" d="M3036.7 1660.4 H3059.7 M3036.7 1684.4 H3059.7 M3036.7 1708.4 H3059.7 M3036.7 1731.8 H3059.7 M2919.4 1779.3 H2965.3 M2919.4 1803.3 H2965.3 M3083.7 1756 V1779"/>
<path stroke="#840000" stroke-width="5" d="M2917 1779.3 H2926 M2917 1803.3 H2926"/>
<rect class="cf" x="3059.7" y="1649" width="48" height="107"/>
<rect x="3107.7" y="1707" width="12.3" height="26" fill="#840000"/>
<path class="c" stroke-width="2.4" d="M3059.7 1660.4 H3089 V1702 L3096 1710 L3103 1702 M3059.7 1708.4 H3066 L3073 1716 L3080 1708 M3059.7 1684.4 H3078 V1663 M3074 1668 L3078 1662 L3082 1668 M3059.7 1731.8 H3066 V1712 M3062 1717 L3066 1711 L3070 1717"/>
<use href="#nc" x="3035" y="1684.4"/>
<g class="p" font-size="17" text-anchor="middle"><text x="3047" y="1656">S</text><text x="3047" y="1680">SN</text><text x="3047" y="1704">T</text><text x="3047" y="1727.5">TN</text><text x="2946" y="1776">1</text><text x="2946" y="1800">2</text>
<text transform="rotate(-90 3074 1766.5)" x="3074" y="1772.5">G</text></g>
<use href="#gnd" x="2976.5" y="1827.8"/>
<use href="#gnd" x="3083.7" y="1827.8"/>
<text class="t" x="2977.5" y="1863.8" text-anchor="middle">GND</text>
<text class="t" x="3084.7" y="1863.8" text-anchor="middle">GND</text>
<text class="t" x="2943" y="1744" text-anchor="middle">J2</text>
<text class="t" x="2917" y="1763" text-anchor="middle" textLength="69" lengthAdjust="spacingAndGlyphs">Speaker</text>
<text class="t" x="3082.6" y="1596" text-anchor="middle">J3</text>
<text class="t" x="3085.7" y="1620" text-anchor="middle" textLength="96" lengthAdjust="spacingAndGlyphs">Headphone</text>
</svg>
</body></html>
